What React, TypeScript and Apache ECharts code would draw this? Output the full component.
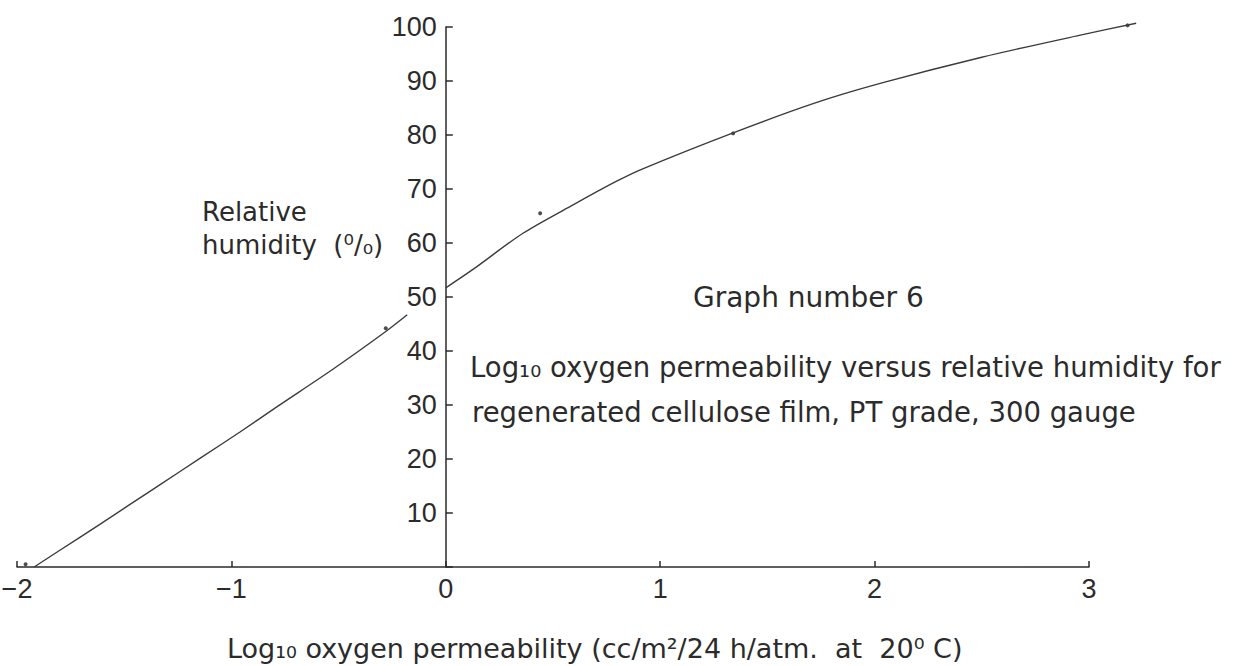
import React, { useEffect, useRef } from "react";
import * as echarts from "echarts";

// Axis ranges / ticks
const xTicks = [-2, -1, 0, 1, 2, 3];
const yTicks = [0, 10, 20, 30, 40, 50, 60, 70, 80, 90, 100];

// Lower curve segment (log10 permeability, relative humidity %)
const lowerX = [-1.92, -1.8, -1.61, -1.35, -1.14, -0.96, -0.79, -0.52, -0.28, -0.18];
const lowerY = [0, 3.1, 8.0, 14.8, 20.3, 25.0, 29.6, 36.8, 43.6, 46.7];

// Upper curve segment
const upperX = [0, 0.13, 0.36, 0.6, 0.79, 0.91, 1.34, 1.72, 2.03, 2.5, 2.96, 3.22];
const upperY = [51.7, 55.2, 61.8, 67.2, 71.3, 73.6, 80.4, 85.9, 89.6, 94.4, 98.5, 100.7];

// Measured points (small dots)
const pointX = [-1.96, -0.28, 0.44, 1.34, 3.18];
const pointY = [0.5, 44.2, 65.5, 80.3, 100.3];

// Texts
const yTitle1 = "Relative";
const yTitle2 = "humidity  (⁰/₀)";
const graphTitle = "Graph number 6";
const caption1 = "Log₁₀ oxygen permeability versus relative humidity for";
const caption2 = "regenerated cellulose film, PT grade, 300 gauge";
const xTitle = "Log₁₀ oxygen permeability (cc/m²/24 h/atm.  at  20⁰ C)";

const INK = "#2b2b2b";
const LINE = "#3c3c3c";

// Layout of the main plotting area (pixels)
const W = 1233;
const H = 666;
const G_LEFT = 17;
const G_RIGHT = 144;
const G_TOP = 27;
const G_BOTTOM = 99;

export default function App() {
  const ref = useRef<HTMLDivElement>(null);

  useEffect(() => {
    if (!ref.current) return;
    const chart = echarts.init(ref.current, undefined, { renderer: "svg" });
    const pairs = (xs: number[], ys: number[]) => xs.map((x, i) => [x, ys[i]]);

    const xMin = xTicks[0];
    const xMax = xTicks[xTicks.length - 1];
    const yMin = yTicks[0];
    const yMax = yTicks[yTicks.length - 1];
    const pxPerX = (W - G_LEFT - G_RIGHT) / (xMax - xMin);
    const pxPerY = (H - G_TOP - G_BOTTOM) / (yMax - yMin);

    // second (hidden) coordinate system with identical scale but wider range,
    // so the curve may run past the drawn axis ends
    const x2Max = 3.25;
    const y2Max = 102;
    const g2Right = W - G_LEFT - pxPerX * (x2Max - xMin);
    const g2Top = H - G_BOTTOM - pxPerY * (y2Max - yMin);

    const txt = (text: string, x: number, y: number, font: string) => ({
      type: "text",
      x,
      y,
      silent: true,
      style: {
        text,
        font,
        fill: INK,
        textAlign: "left",
        textVerticalAlign: "middle",
      },
    });

    const hiddenAxis = {
      show: false,
      axisLine: { show: false },
      axisTick: { show: false },
      axisLabel: { show: false },
      splitLine: { show: false },
    };

    chart.setOption({
      animation: false,
      backgroundColor: "#ffffff",
      grid: [
        {
          left: G_LEFT,
          right: G_RIGHT,
          top: G_TOP,
          bottom: G_BOTTOM,
          containLabel: false,
          outerBoundsMode: "none",
        },
        {
          left: G_LEFT,
          right: g2Right,
          top: g2Top,
          bottom: G_BOTTOM,
          containLabel: false,
          outerBoundsMode: "none",
        },
      ],
      xAxis: [
        {
          type: "value",
          gridIndex: 0,
          min: xMin,
          max: xMax,
          interval: 1,
          axisLine: { show: true, onZero: false, lineStyle: { color: INK, width: 1.5 } },
          axisTick: { show: true, inside: true, length: 6, lineStyle: { color: INK, width: 1.5 } },
          axisLabel: {
            show: true,
            margin: 8,
            fontSize: 27,
            fontFamily: "'Liberation Sans'",
            color: INK,
            formatter: (v: number) => String(v).replace("-", "\u2212"),
          },
          splitLine: { show: false },
        },
        { type: "value", gridIndex: 1, min: xMin, max: x2Max, ...hiddenAxis },
      ],
      yAxis: [
        {
          type: "value",
          gridIndex: 0,
          min: yMin,
          max: yMax,
          interval: 10,
          position: "left",
          offset: -(0 - xMin) * pxPerX,
          axisLine: { show: true, onZero: false, lineStyle: { color: INK, width: 1.5 } },
          axisTick: { show: true, inside: true, length: 7, lineStyle: { color: INK, width: 1.5 } },
          axisLabel: {
            show: true,
            margin: 9,
            fontSize: 27,
            fontFamily: "'Liberation Sans'",
            color: INK,
            formatter: (v: number) => (v === 0 ? "" : String(v)),
          },
          splitLine: { show: false },
        },
        { type: "value", gridIndex: 1, min: yMin, max: y2Max, ...hiddenAxis },
      ],
      series: [
        {
          type: "line",
          xAxisIndex: 1,
          yAxisIndex: 1,
          data: pairs(lowerX, lowerY),
          showSymbol: false,
          smooth: 0.3,
          lineStyle: { color: LINE, width: 1.4 },
        },
        {
          type: "line",
          xAxisIndex: 1,
          yAxisIndex: 1,
          data: pairs(upperX, upperY),
          showSymbol: false,
          smooth: 0.3,
          lineStyle: { color: LINE, width: 1.4 },
        },
        {
          type: "scatter",
          xAxisIndex: 1,
          yAxisIndex: 1,
          data: pairs(pointX, pointY),
          symbolSize: 4,
          itemStyle: { color: "#222" },
        },
      ],
      graphic: [
        txt(yTitle1, 202, 212, "26px 'DejaVu Sans'"),
        txt(yTitle2, 202, 245, "26px 'DejaVu Sans'"),
        txt(graphTitle, 693, 297, "28px 'DejaVu Sans'"),
        txt(caption1, 470, 367, "27.5px 'DejaVu Sans'"),
        txt(caption2, 472, 412, "27.5px 'DejaVu Sans'"),
        txt(xTitle, 227, 648, "27px 'DejaVu Sans'"),
      ],
    });

    return () => chart.dispose();
  }, []);

  return (
    <div
      ref={ref}
      style={{ position: "fixed", left: 0, top: 0, width: W, height: H, background: "#fff" }}
    />
  );
}
